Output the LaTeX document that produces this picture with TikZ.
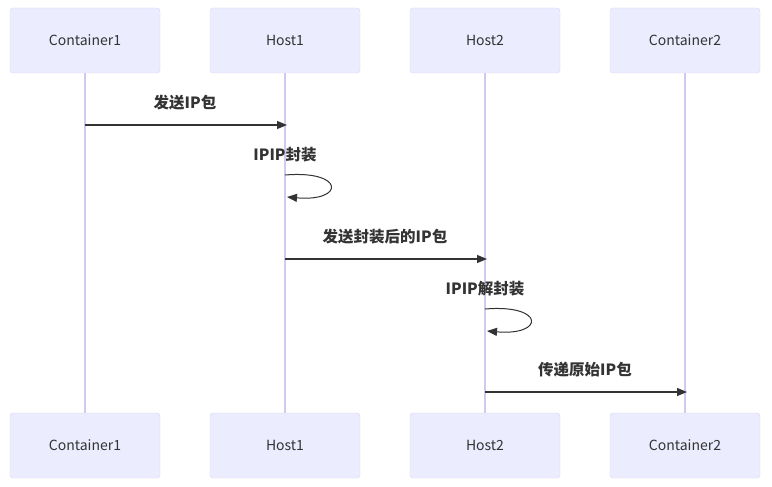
\documentclass[tikz,border=0pt]{standalone}
\usepackage{fontspec}
\setmainfont{Noto Sans CJK SC}
\usetikzlibrary{arrows.meta}
\definecolor{actorfill}{HTML}{ECECFF}
\definecolor{actorline}{HTML}{D9D2F4}
\definecolor{lifeline}{HTML}{D3C9F0}
\definecolor{msgcolor}{HTML}{333333}
\tikzset{
  actor/.style={draw=actorline, fill=actorfill, rounded corners=3pt,
    minimum width=150pt, minimum height=65pt, inner sep=0pt,
    font=\fontsize{14}{16}\selectfont, text=msgcolor},
  msg/.style={draw=msgcolor, line width=1.2pt, -{Triangle[length=10pt,width=8pt]}},
  msglabel/.style={font=\fontsize{15.5}{18}\selectfont\bfseries, text=msgcolor}
}
\begin{document}
\begin{tikzpicture}[x=1pt,y=-1pt]
\useasboundingbox (0,0) rectangle (772,487);

\foreach \name/\x/\txt in {c1/85/Container1, h1/285/Host1, h2/485/Host2, c2/685/Container2}
{
\node [actor] (\name top) at (\x,40.5) {\txt};
\node [actor] (\name bot) at (\x,445.5) {\txt};
\draw [lifeline, line width=1.2pt] (\name top.south) -- (\name bot.north);
}

% messages
\coordinate (c1m1) at (85,125);
\coordinate (h1m1) at (287,125);
\draw [msg] (c1m1) -- (h1m1);
\node [msglabel] (lab1) at (185,103) {发送IP包};

\coordinate (h1s) at (285,175);
\coordinate (h1e) at (287,197);
\draw [msg, line width=1pt] (h1s) .. controls (345,170) and (345,202) .. (h1e);
\node [msglabel] (lab2) at (285,155) {IPIP封装};

\coordinate (h1m2) at (285,259);
\coordinate (h2m2) at (487,259);
\draw [msg] (h1m2) -- (h2m2);
\node [msglabel] (lab3) at (385,237) {发送封装后的IP包};

\coordinate (h2s) at (485,309);
\coordinate (h2e) at (487,331);
\draw [msg, line width=1pt] (h2s) .. controls (545,304) and (545,336) .. (h2e);
\node [msglabel] (lab4) at (485,289) {IPIP解封装};

\coordinate (h2m3) at (485,392);
\coordinate (c2m3) at (687,392);
\draw [msg] (h2m3) -- (c2m3);
\node [msglabel] (lab5) at (585,370) {传递原始IP包};

\end{tikzpicture}
\end{document}
